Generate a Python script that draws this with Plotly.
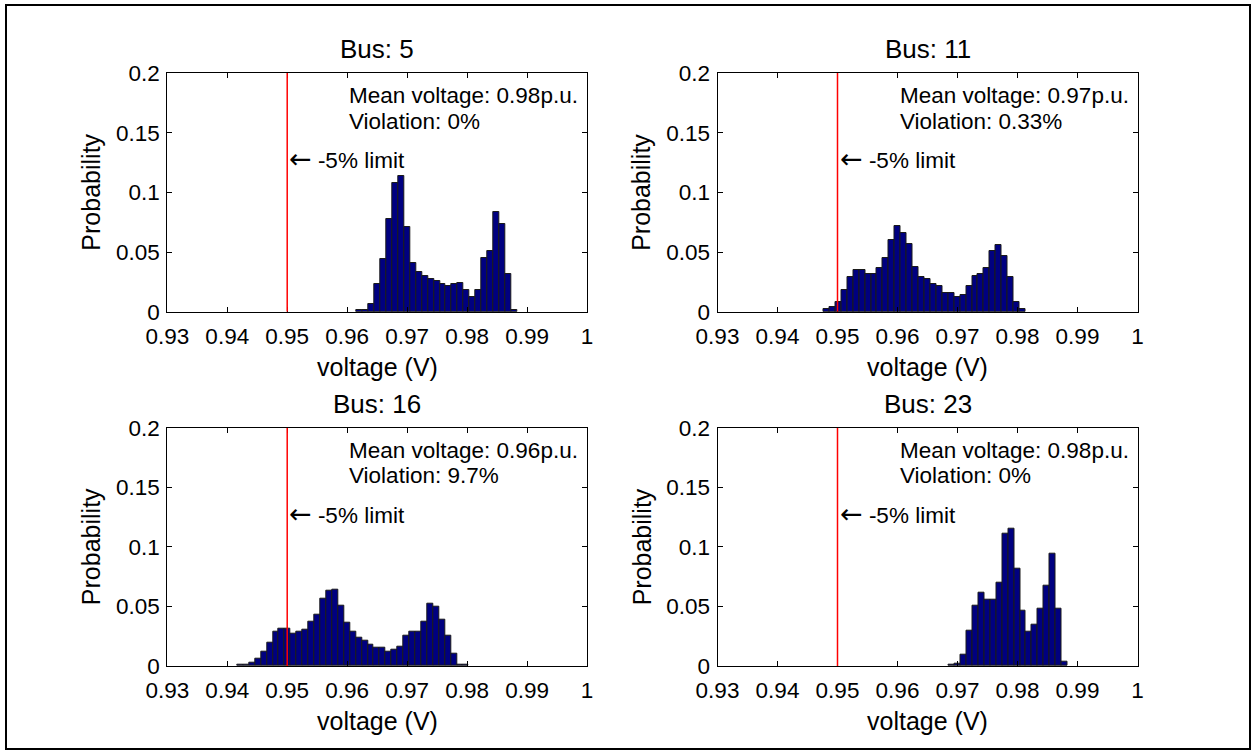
import plotly.graph_objects as go

# ---------------- data ----------------
buses = ["5", "11", "16", "23"]
mean_voltage = ["0.98", "0.97", "0.96", "0.98"]
violation = ["0%", "0.33%", "9.7%", "0%"]

bin_width = 0.00099
bin_start = [0.96159, 0.94767, 0.94166, 0.96854]  # left edge of first bin

prob_bus5 = [0.0012, 0.0012, 0.0064, 0.0229, 0.0438, 0.078, 0.108, 0.1138, 0.0706,
             0.0404, 0.0329, 0.0301, 0.0273, 0.0257, 0.0229, 0.0212, 0.0229, 0.0243,
             0.0181, 0.0126, 0.0181, 0.0452, 0.051, 0.0837, 0.0734, 0.0318, 0.0017]
prob_bus11 = [0.002, 0.0036, 0.0081, 0.0184, 0.0287, 0.0346, 0.0346, 0.0318, 0.0318,
              0.0363, 0.0452, 0.06, 0.072, 0.0661, 0.0569, 0.0377, 0.0287, 0.0273,
              0.0229, 0.0212, 0.0153, 0.0153, 0.0123, 0.0139, 0.0212, 0.0301, 0.0318,
              0.0363, 0.051, 0.0555, 0.0466, 0.0287, 0.0081, 0.002]
prob_bus16 = [0.0008, 0.0013, 0.0025, 0.0058, 0.012, 0.0196, 0.0285, 0.0316, 0.0316,
              0.0269, 0.0285, 0.0302, 0.0375, 0.0434, 0.0568, 0.063, 0.0644, 0.0506,
              0.0361, 0.0285, 0.0241, 0.0213, 0.0182, 0.0151, 0.0151, 0.012, 0.0137,
              0.0165, 0.0255, 0.0285, 0.0285, 0.0375, 0.0523, 0.0495, 0.0389, 0.0255,
              0.0106, 0.0015, 0.0012]
prob_bus23 = [0.0014, 0.002, 0.0092, 0.0296, 0.0509, 0.0613, 0.0554, 0.0554, 0.07,
              0.1108, 0.115, 0.082, 0.0464, 0.0285, 0.0344, 0.0478, 0.0674, 0.0943,
              0.0478, 0.004]
probs = [prob_bus5, prob_bus11, prob_bus16, prob_bus23]

limit_voltage = 0.95
x_tickvals = [0.93, 0.94, 0.95, 0.96, 0.97, 0.98, 0.99, 1.0]
x_ticktext = ["0.93", "0.94", "0.95", "0.96", "0.97", "0.98", "0.99", "1"]
y_tickvals = [0, 0.05, 0.1, 0.15, 0.2]
y_ticktext = ["0", "0.05", "0.1", "0.15", "0.2"]

# ---------------- layout geometry (pixels) ----------------
W, H = 1257, 755
boxes = [(167.3, 587.0, 73.0, 311.7), (717.5, 1137.5, 73.0, 311.7),
         (167.3, 587.0, 427.7, 666.0), (717.5, 1137.5, 427.7, 666.0)]

def fx(p):
    return p / W

def fy(p):
    return 1 - p / H

FONT = "Arial, Liberation Sans, sans-serif"
TICK = 22.5
LABEL = 25
fig = go.Figure()
annotations = []
shapes = []

for i in range(4):
    ax = "" if i == 0 else str(i + 1)
    x0, x1, y0, y1 = boxes[i]
    centers = [bin_start[i] + bin_width * (k + 0.5) for k in range(len(probs[i]))]
    fig.add_trace(go.Bar(
        x=centers, y=probs[i], width=bin_width,
        marker=dict(color="#000080", line=dict(color="#1a1a1a", width=1)),
        xaxis="x" + ax, yaxis="y" + ax, showlegend=False,
    ))
    axis_common = dict(showline=True, linecolor="black", linewidth=1, mirror="ticks",
                       ticks="inside", ticklen=5, tickcolor="black", showgrid=False,
                       zeroline=False, automargin=False,
                       tickfont=dict(size=TICK, color="black", family=FONT))
    fig.update_layout(**{
        "xaxis" + ax: dict(domain=[fx(x0), fx(x1)], range=[0.93, 1.0], anchor="y" + ax,
                           tickvals=x_tickvals, ticktext=x_ticktext, ticklabelstandoff=4,
                           **axis_common),
        "yaxis" + ax: dict(domain=[fy(y1), fy(y0)], range=[0, 0.2], anchor="x" + ax,
                           tickvals=y_tickvals, ticktext=y_ticktext, ticklabelstandoff=2,
                           **axis_common),
    })
    # red -5% limit line
    shapes.append(dict(type="line", xref="x" + ax, yref="y" + ax, x0=limit_voltage,
                       x1=limit_voltage, y0=0, y1=0.2, line=dict(color="red", width=1.5)))
    txt = dict(xref="x" + ax, yref="y" + ax, showarrow=False, xanchor="left",
               yanchor="middle", font=dict(size=TICK, color="black", family=FONT))
    annotations.append(dict(x=0.96, y=0.1812, text="Mean voltage: %sp.u." % mean_voltage[i], **txt))
    annotations.append(dict(x=0.96, y=0.1595, text="Violation: %s" % violation[i], **txt))
    annotations.append(dict(x=limit_voltage, y=0.1284,
                            text="<span style='font-family:DejaVu Sans;font-size:27px'>\u2190</span> -5% limit",
                            **txt))
    cx = (x0 + x1) / 2
    # title
    annotations.append(dict(xref="paper", yref="paper", x=fx(cx), y=fy(y0 - 24),
                            text="Bus: %s" % buses[i], showarrow=False,
                            xanchor="center", yanchor="middle",
                            font=dict(size=26, color="black", family=FONT)))
    # x label
    annotations.append(dict(xref="paper", yref="paper", x=fx(cx), y=fy(y1 + 55),
                            text="voltage (V)", showarrow=False,
                            xanchor="center", yanchor="middle",
                            font=dict(size=LABEL, color="black", family=FONT)))
    # y label
    annotations.append(dict(xref="paper", yref="paper", x=fx(x0 - 76), y=fy((y0 + y1) / 2),
                            text="Probability", showarrow=False, textangle=-90,
                            xanchor="center", yanchor="middle",
                            font=dict(size=LABEL, color="black", family=FONT)))

# outer frame
shapes.append(dict(type="rect", xref="paper", yref="paper", x0=fx(6), x1=fx(1250),
                   y0=fy(749), y1=fy(5), line=dict(color="black", width=2)))

fig.update_layout(
    width=W, height=H, margin=dict(l=0, r=0, t=0, b=0, pad=0, autoexpand=False),
    paper_bgcolor="white", plot_bgcolor="white",
    bargap=0, annotations=annotations, shapes=shapes,
    font=dict(family=FONT, color="black"),
)

fig.write_html("out.html", config={"displayModeBar": False},
               post_script="document.body.style.margin='0';document.body.style.overflow='hidden';")
